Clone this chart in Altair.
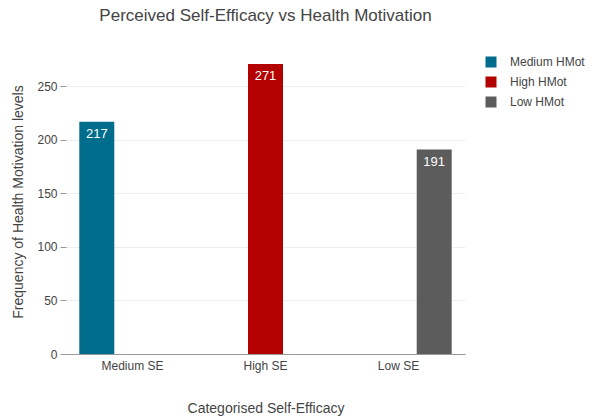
import altair as alt
import pandas as pd

categories = ["Medium SE", "High SE", "Low SE"]
groups = ["Medium HMot", "High HMot", "Low HMot"]
values = [217, 271, 191]
colors = ["#006d8c", "#b30000", "#5c5c5c"]

df = pd.DataFrame({"se": categories, "hmot": groups, "count": values})

font = "Liberation Sans"

x = alt.X("se:N", sort=categories,
          scale=alt.Scale(paddingInner=0.2, paddingOuter=0.1),
          axis=alt.Axis(title="Categorised Self-Efficacy", labelAngle=0, ticks=False,
                        domain=True, domainColor="#999", labelPadding=6,
                        titlePadding=30, labelFontSize=12, titleFontSize=14,
                        labelColor="#444", titleColor="#444", titleFontWeight="normal"))
xo = alt.XOffset("hmot:N", sort=groups, scale=alt.Scale(domain=groups, paddingInner=0.02))
y = alt.Y("count:Q", scale=alt.Scale(domain=[0, 285], nice=False),
          axis=alt.Axis(title="Frequency of Health Motivation levels", values=[0, 50, 100, 150, 200, 250],
                        domain=False, ticks=True, tickSize=6, tickColor="#999",
                        gridColor="#eeeeee", labelFontSize=12, titleFontSize=14,
                        labelColor="#444", titleColor="#444", titleFontWeight="normal",
                        labelPadding=3, titlePadding=11))

bars = alt.Chart(df).mark_bar().encode(
    x=x, xOffset=xo, y=y,
    color=alt.Color("hmot:N", scale=alt.Scale(domain=groups, range=colors),
                    legend=alt.Legend(title=None, orient="none", legendX=419, legendY=7,
                                      symbolType="square", symbolSize=121, symbolStrokeWidth=0,
                                      labelFontSize=12, labelColor="#444", rowPadding=8,
                                      labelOffset=13, labelLimit=200)),
)

labels = alt.Chart(df).mark_text(baseline="top", dy=6, color="white", fontSize=13, font=font).encode(
    x=x, xOffset=xo, y=y, text="count:Q"
)

chart = (bars + labels).properties(
    width=399, height=305,
    title=alt.TitleParams("Perceived Self-Efficacy vs Health Motivation", fontSize=17,
                          fontWeight="normal", color="#444", font=font, offset=24, anchor="middle"),
    padding={"left": 66, "top": 49, "right": 127, "bottom": 64},
    autosize=alt.AutoSizeParams(type="none"),
).configure(font=font).configure_view(stroke=None)

chart.save("out.html", embed_options={"renderer": "svg", "actions": False})
